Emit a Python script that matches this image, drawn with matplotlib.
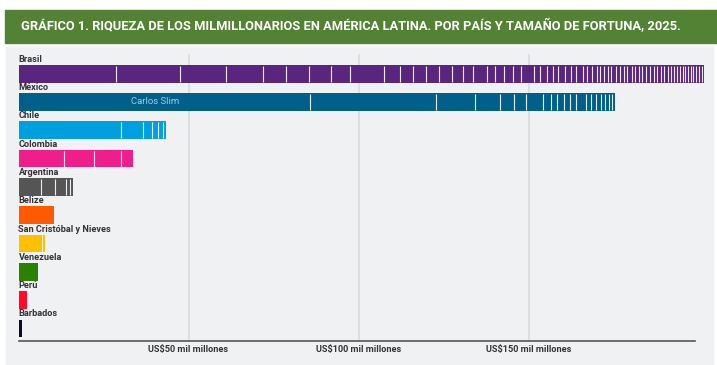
import matplotlib
matplotlib.use("Agg")
import matplotlib.pyplot as plt
from matplotlib.patches import Rectangle
import numpy as np

# fortunas individuales (US$ mil millones), por pais
paises = ["Brasil", "México", "Chile", "Colombia", "Argentina", "Belize",
          "San Cristóbal y Nieves", "Venezuela", "Perú", "Barbados"]
colores = ["#58267e", "#006089", "#009fe0", "#f01e8a", "#555555", "#ff5a00",
           "#ffc000", "#2a8000", "#ff0a2a", "#0a0a30"]

brasil = [28.6, 19.0, 13.4, 10.8, 6.8, 6.8, 6.4, 5.8, 10.0, 4.6, 3.7, 4.1, 3.6,
          3.8, 3.4, 3.0, 3.9, 2.4, 2.6, 2.6, 2.6, 3.6, 1.9, 1.9, 1.8, 1.7, 1.9,
          1.7, 1.7, 1.8, 1.4, 1.4, 1.3, 1.1, 1.2, 1.1, 1.0, 1.3, 1.3, 1.1, 1.0,
          1.2, 1.1, 1.0, 1.1, 1.2, 1.0, 1.1, 1.0, 1.1, 1.0, 1.0, 1.0, 1.0, 0.8,
          0.8, 0.8, 0.8, 0.8, 0.8, 0.8, 0.8, 0.8, 0.8, 0.8]
mexico = [85.7, 37.0, 11.5, 7.4, 4.2, 3.6, 5.0, 2.1, 1.9, 2.0, 1.8, 1.7, 3.0,
          1.5, 1.5, 1.3, 1.2, 1.3, 1.0, 0.8]
chile = [30.2, 6.4, 2.6, 1.8, 1.5, 0.8]
colombia = [13.3, 9.0, 7.9, 3.5]
argentina = [6.7, 4.0, 3.4, 1.0, 0.8]
belize = [10.3]
san_cristobal = [7.0, 0.9]
venezuela = [5.6]
peru = [2.4]
barbados = [0.9]

fortunas = [brasil, mexico, chile, colombia, argentina, belize,
            san_cristobal, venezuela, peru, barbados]

ticks = [50, 100, 150]
tick_labels = ["US$50 mil millones", "US$100 mil millones", "US$150 mil millones"]
titulo = ("GRÁFICO 1. RIQUEZA DE LOS MILMILLONARIOS EN AMÉRICA LATINA. "
          "POR PAÍS Y TAMAÑO DE FORTUNA, 2025.")

fuente = ["Roboto", "DejaVu Sans"]

W, H = 717, 365
fig = plt.figure(figsize=(W / 100, H / 100), dpi=100)
fig.patch.set_facecolor("white")

# cabecera verde y panel gris
fig.patches.append(Rectangle((5 / W, 1 - 43 / H), 712 / W, 33 / H,
                             transform=fig.transFigure, color="#548235", zorder=-10))
fig.patches.append(Rectangle((6 / W, 0), 707 / W, 1 - 47 / H,
                             transform=fig.transFigure, color="#f0f1f3", zorder=-10))
fig.text(21 / W, 1 - 26.5 / H, titulo, color="white", fontsize=9.3,
         fontweight="bold", family=fuente, va="center", ha="left")

px = 3.4  # pixeles por mil millones
x0, x1 = 18.5, 695
y_top, y_bot = 54, 341
ax = fig.add_axes([x0 / W, 1 - y_bot / H, (x1 - x0) / W, (y_bot - y_top) / H])
ax.set_facecolor("none")
ax.set_xlim(0, (x1 - x0) / px)
paso = 28.3
ax.set_ylim((y_bot - 73.7) / paso, -(73.7 - y_top) / paso)

alto = 17.7 / paso
for i, (pais, col, vals) in enumerate(zip(paises, colores, fortunas)):
    izq = np.concatenate([[0], np.cumsum(vals)[:-1]])
    ax.barh(i, vals, left=izq, height=alto, color=col, linewidth=0,
            clip_on=False, zorder=3)
    if len(vals) > 1:
        ax.vlines(np.cumsum(vals)[:-1], i - alto / 2 + 0.03, i + alto / 2 - 0.03,
                  color="white", linewidth=0.8, alpha=0.9, zorder=4, clip_on=False)
    ax.text(0, i - alto / 2 - 0.04, pais, fontsize=6.6, color="#333333",
            family=fuente, fontweight="bold", va="bottom", ha="left")

ax.text(mexico[0] * 0.47, 1, "Carlos Slim", fontsize=6.8, color="#a9cbe0",
        family=fuente, va="center", ha="center", zorder=5)

for t in ticks:
    ax.axvline(t, color="#dadbdd", linewidth=1.2, zorder=1)

ax.set_xticks(ticks)
ax.set_xticklabels(tick_labels, fontsize=6.6, color="#333333", family=fuente,
                   fontweight="bold")
ax.tick_params(axis="x", length=0, pad=3)
ax.set_yticks([])
for s in ["top", "right", "left"]:
    ax.spines[s].set_visible(False)
ax.spines["bottom"].set_color("#555555")
ax.spines["bottom"].set_linewidth(1.2)

fig.savefig("out.png", dpi=100)
